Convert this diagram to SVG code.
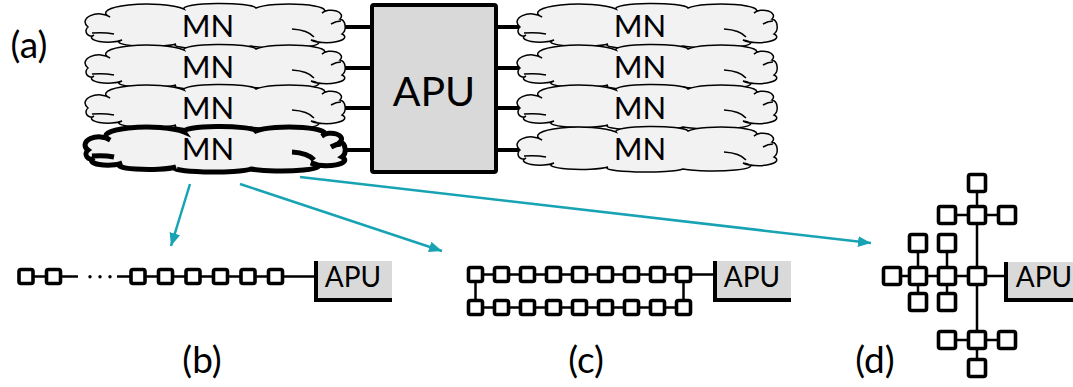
<svg xmlns="http://www.w3.org/2000/svg" width="1073" height="387" viewBox="0 0 1073 387">
<style>
.lbl{font-family:Lato,'Liberation Sans',sans-serif;font-size:37px;fill:#000;text-anchor:middle}
.mn{font-family:Lato,'Liberation Sans',sans-serif;font-size:31px;fill:#000;text-anchor:middle}
.big{font-family:Lato,'Liberation Sans',sans-serif;font-size:41px;fill:#000;text-anchor:middle}
.sm{font-family:Lato,'Liberation Sans',sans-serif;font-size:28px;fill:#000;text-anchor:middle}
.cloud{fill:#f2f2f2;stroke:#000;stroke-width:1.5}
.bold{stroke-width:5}
.link{stroke:#000;stroke-width:4}
.arrow{stroke:#17a3b4;stroke-width:2.5;fill:none;marker-end:url(#ah)}
.sq{fill:#fff;stroke:#000;stroke-width:3.6}
.wire{stroke:#000;stroke-width:2.5;fill:none}
.apus{fill:#d9d9d9}
.edge{fill:none;stroke:#000;stroke-width:4}
</style>
<defs>
<marker id="ah" viewBox="0 0 12 10" markerWidth="13" markerHeight="11" refX="12" refY="5" orient="auto" markerUnits="userSpaceOnUse">
<path d="M0,0 L12,5 L0,10 z" fill="#17a3b4"/>
</marker>
<g id="cl">
<path d="M 2,24 A 12 7 0 0 1 24,14 A 37 8 0 0 1 98,6 A 36 5 0 0 1 170,5 A 33 6 0 0 1 236,10 A 9 5 0 0 1 254,16 A 6 8 0 0 1 256,31 A 16 5 0 0 1 225,37 A 30 4 0 0 1 165,43 A 38 4 0 0 1 90,41 A 27 4 0 0 1 36,37 A 14 4 0 0 1 8,32 A 4 4 0 0 1 2,24 Z"/>
<path fill="none" d="M 6,30 Q 18,29 28,31 M 206,26 Q 222,27 228,34 M 245,21 Q 250,18 255,18"/>
</g>
</defs>
<rect width="1073" height="387" fill="#fff"/>

<g id="connectors">
<line class="link" x1="340" y1="27" x2="372" y2="27"/>
<line class="link" x1="340" y1="68" x2="372" y2="68"/>
<line class="link" x1="340" y1="108" x2="372" y2="108"/>
<line class="link" x1="340" y1="150" x2="372" y2="150"/>
<line class="link" x1="496" y1="27" x2="525" y2="27"/>
<line class="link" x1="496" y1="68" x2="525" y2="68"/>
<line class="link" x1="496" y1="108" x2="525" y2="108"/>
<line class="link" x1="496" y1="150" x2="525" y2="150"/>
<line class="arrow" x1="190" y1="184" x2="171" y2="246"/>
<line class="arrow" x1="240" y1="184" x2="442" y2="251"/>
<line class="arrow" x1="300" y1="177" x2="871" y2="243"/>
<path class="wire" d="M26 276.5 H78 M117 276.5 H316"/>
<path class="wire" d="M475.5 274.5 H715 M475.5 307.5 H683.5 M475.5 274.5 V307.5 M683.5 274.5 V307.5"/>
<path class="wire" d="M892 276 H1006 M947 215 H1007 M947 340 H1007 M977 183 V368 M918 243 V302 M947 243 V302"/>
</g>

<g id="mn-l1"><use href="#cl" class="cloud" transform="translate(86,3)"/><text class="mn" x="208" y="37">MN</text></g>
<g id="mn-l2"><use href="#cl" class="cloud" transform="translate(86,44)"/><text class="mn" x="208" y="78">MN</text></g>
<g id="mn-l3"><use href="#cl" class="cloud" transform="translate(86,84)"/><text class="mn" x="208" y="119">MN</text></g>
<g id="mn-l4"><use href="#cl" class="cloud bold" transform="translate(86,126)"/><text class="mn" x="208" y="160">MN</text></g>

<g id="mn-r1"><use href="#cl" class="cloud" transform="translate(518,3)"/><text class="mn" x="640" y="37">MN</text></g>
<g id="mn-r2"><use href="#cl" class="cloud" transform="translate(518,44)"/><text class="mn" x="640" y="78">MN</text></g>
<g id="mn-r3"><use href="#cl" class="cloud" transform="translate(518,84)"/><text class="mn" x="640" y="119">MN</text></g>
<g id="mn-r4"><use href="#cl" class="cloud" transform="translate(518,126)"/><text class="mn" x="640" y="160">MN</text></g>

<g id="apu-main">
<rect x="372" y="5" width="124" height="167" rx="2" fill="#d9d9d9" stroke="#000" stroke-width="4"/>
<text class="big" x="434" y="106">APU</text>
</g>

<g id="label-a"><text class="lbl" x="29" y="58">(a)</text></g>

<g id="chain-b">
<rect class="sq" x="19" y="269.5" width="14" height="14" rx="2"/>
<rect class="sq" x="46.5" y="269.5" width="14" height="14" rx="2"/>
<circle cx="90" cy="276.7" r="1.7"/>
<circle cx="100" cy="276.7" r="1.7"/>
<circle cx="110" cy="276.7" r="1.7"/>
<rect class="sq" x="131" y="269.5" width="14" height="14" rx="2"/>
<rect class="sq" x="158.5" y="269.5" width="14" height="14" rx="2"/>
<rect class="sq" x="186" y="269.5" width="14" height="14" rx="2"/>
<rect class="sq" x="213.5" y="269.5" width="14" height="14" rx="2"/>
<rect class="sq" x="241" y="269.5" width="14" height="14" rx="2"/>
<rect class="sq" x="268.5" y="269.5" width="14" height="14" rx="2"/>
</g>
<g id="apu-b">
<rect class="apus" x="314" y="261" width="78" height="41"/>
<path class="edge" d="M316 261 V300 H392"/>
<text class="sm" x="353" y="287">APU</text>
</g>
<g id="label-b"><text class="lbl" x="202" y="373">(b)</text></g>

<g id="chain-c">
<rect class="sq" x="468.5" y="267.5" width="14" height="14" rx="2"/>
<rect class="sq" x="494.5" y="267.5" width="14" height="14" rx="2"/>
<rect class="sq" x="520.5" y="267.5" width="14" height="14" rx="2"/>
<rect class="sq" x="546.5" y="267.5" width="14" height="14" rx="2"/>
<rect class="sq" x="572.5" y="267.5" width="14" height="14" rx="2"/>
<rect class="sq" x="598.5" y="267.5" width="14" height="14" rx="2"/>
<rect class="sq" x="624.5" y="267.5" width="14" height="14" rx="2"/>
<rect class="sq" x="650.5" y="267.5" width="14" height="14" rx="2"/>
<rect class="sq" x="676.5" y="267.5" width="14" height="14" rx="2"/>
<rect class="sq" x="468.5" y="300.5" width="14" height="14" rx="2"/>
<rect class="sq" x="494.5" y="300.5" width="14" height="14" rx="2"/>
<rect class="sq" x="520.5" y="300.5" width="14" height="14" rx="2"/>
<rect class="sq" x="546.5" y="300.5" width="14" height="14" rx="2"/>
<rect class="sq" x="572.5" y="300.5" width="14" height="14" rx="2"/>
<rect class="sq" x="598.5" y="300.5" width="14" height="14" rx="2"/>
<rect class="sq" x="624.5" y="300.5" width="14" height="14" rx="2"/>
<rect class="sq" x="650.5" y="300.5" width="14" height="14" rx="2"/>
<rect class="sq" x="676.5" y="300.5" width="14" height="14" rx="2"/>
</g>
<g id="apu-c">
<rect class="apus" x="713" y="261" width="78" height="41"/>
<path class="edge" d="M715 261 V300 H791"/>
<text class="sm" x="752" y="287">APU</text>
</g>
<g id="label-c"><text class="lbl" x="586" y="373">(c)</text></g>

<g id="tree-d">
<rect class="sq" x="968.5" y="174.5" width="17" height="17" rx="2"/>
<rect class="sq" x="938.5" y="206.5" width="17" height="17" rx="2"/>
<rect class="sq" x="968.5" y="206.5" width="17" height="17" rx="2"/>
<rect class="sq" x="998.5" y="206.5" width="17" height="17" rx="2"/>
<rect class="sq" x="909.5" y="234.5" width="17" height="17" rx="2"/>
<rect class="sq" x="938.5" y="234.5" width="17" height="17" rx="2"/>
<rect class="sq" x="883.5" y="267.5" width="17" height="17" rx="2"/>
<rect class="sq" x="909.5" y="267.5" width="17" height="17" rx="2"/>
<rect class="sq" x="938.5" y="267.5" width="17" height="17" rx="2"/>
<rect class="sq" x="968.5" y="267.5" width="17" height="17" rx="2"/>
<rect class="sq" x="909.5" y="293.5" width="17" height="17" rx="2"/>
<rect class="sq" x="938.5" y="293.5" width="17" height="17" rx="2"/>
<rect class="sq" x="938.5" y="331.5" width="17" height="17" rx="2"/>
<rect class="sq" x="968.5" y="331.5" width="17" height="17" rx="2"/>
<rect class="sq" x="998.5" y="331.5" width="17" height="17" rx="2"/>
<rect class="sq" x="968.5" y="359.5" width="17" height="17" rx="2"/>
</g>
<g id="apu-d">
<rect class="apus" x="1004" y="262" width="69" height="40"/>
<path class="edge" d="M1006 262 V300 H1073"/>
<text class="sm" x="1044" y="287">APU</text>
</g>
<g id="label-d"><text class="lbl" x="875" y="373">(d)</text></g>
</svg>
